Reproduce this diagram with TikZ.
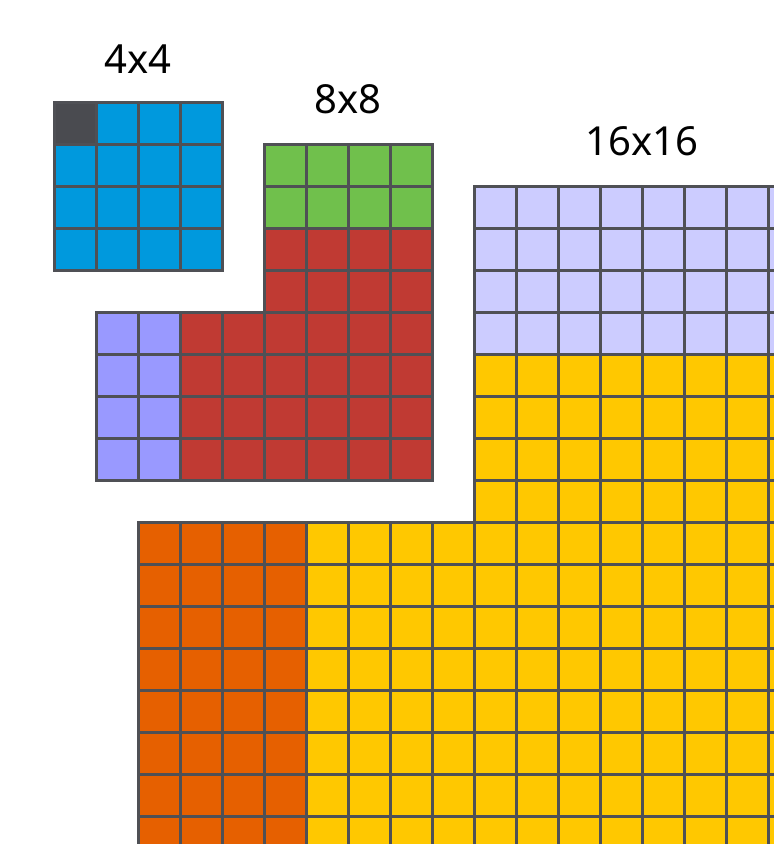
\documentclass[tikz,border=0pt]{standalone}
\usepackage{fontspec}
\setmainfont{Noto Sans}
\definecolor{gridc}{HTML}{4F5055}
\definecolor{darkc}{HTML}{4A4B50}
\definecolor{bluec}{HTML}{0099DD}
\definecolor{greenc}{HTML}{70C04C}
\definecolor{redc}{HTML}{C03A33}
\definecolor{lavc}{HTML}{9999FF}
\definecolor{lightlavc}{HTML}{CCCCFF}
\definecolor{yellowc}{HTML}{FFC800}
\definecolor{orangec}{HTML}{E66000}
\begin{document}
\begin{tikzpicture}[x=1pt,y=-1pt,
  cell/.style={draw=gridc, line width=3pt},
  lbl/.style={anchor=base, font=\fontsize{40}{48}\selectfont, inner sep=0pt}]
\useasboundingbox (0,0) rectangle (774,844);
\clip (0,0) rectangle (774,844);
% 4x4 block
\foreach \r in {0,...,3}{\foreach \c in {0,...,3}{
  \path[cell, fill=bluec] ({54+42*\c},{102+42*\r}) rectangle +(42,42);}}
\path[cell, fill=darkc] (54,102) rectangle +(42,42);
% 8x8 block
\foreach \r in {0,1}{\foreach \c in {4,...,7}{
  \path[cell, fill=greenc] ({96+42*\c},{144+42*\r}) rectangle +(42,42);}}
\foreach \r in {2,3}{\foreach \c in {4,...,7}{
  \path[cell, fill=redc] ({96+42*\c},{144+42*\r}) rectangle +(42,42);}}
\foreach \r in {4,...,7}{\foreach \c in {0,1}{
  \path[cell, fill=lavc] ({96+42*\c},{144+42*\r}) rectangle +(42,42);}}
\foreach \r in {4,...,7}{\foreach \c in {2,...,7}{
  \path[cell, fill=redc] ({96+42*\c},{144+42*\r}) rectangle +(42,42);}}
% 16x16 block
\foreach \r in {0,...,3}{\foreach \c in {8,...,15}{
  \path[cell, fill=lightlavc] ({138+42*\c},{186+42*\r}) rectangle +(42,42);}}
\foreach \r in {4,...,7}{\foreach \c in {8,...,15}{
  \path[cell, fill=yellowc] ({138+42*\c},{186+42*\r}) rectangle +(42,42);}}
\foreach \r in {8,...,15}{\foreach \c in {0,...,3}{
  \path[cell, fill=orangec] ({138+42*\c},{186+42*\r}) rectangle +(42,42);}}
\foreach \r in {8,...,15}{\foreach \c in {4,...,15}{
  \path[cell, fill=yellowc] ({138+42*\c},{186+42*\r}) rectangle +(42,42);}}
% labels
\node[lbl] (l4) at (138,73) {4x4};
\node[lbl] (l8) at (348,113) {8x8};
\node[lbl] (l16) at (642,155) {16x16};
\end{tikzpicture}
\end{document}
